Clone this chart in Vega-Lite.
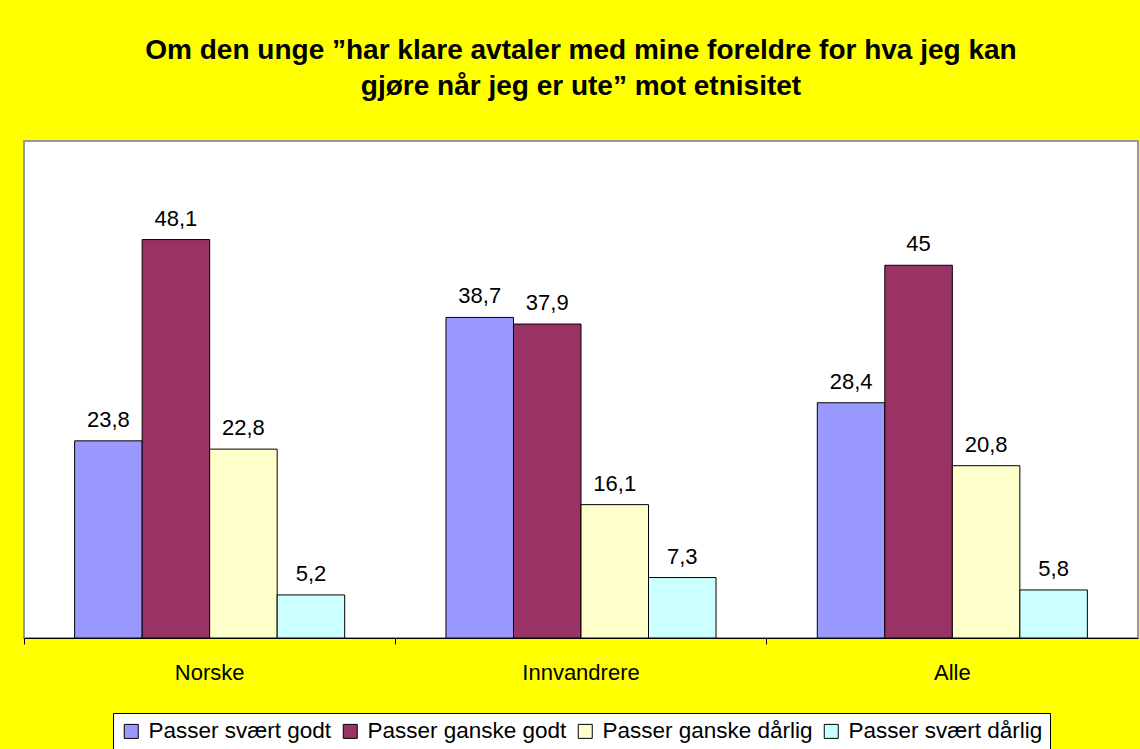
{
  "$schema": "https://vega.github.io/schema/vega-lite/v6.json",
  "width": 1114,
  "height": 497,
  "padding": {"left": 23, "top": 37, "right": 3, "bottom": 0},
  "background": "#FFFF00",
  "title": {
    "text": ["Om den unge ”har klare avtaler med mine foreldre for hva jeg kan", "gjøre når jeg er ute” mot etnisitet"],
    "fontSize": 28,
    "font": "Liberation Sans",
    "fontWeight": "bold",
    "lineHeight": 36,
    "offset": 40,
    "color": "black"
  },
  "data": {
    "values": [
      {"gruppe": "Norske", "svar": "Passer svært godt", "prosent": 23.8},
      {"gruppe": "Norske", "svar": "Passer ganske godt", "prosent": 48.1},
      {"gruppe": "Norske", "svar": "Passer ganske dårlig", "prosent": 22.8},
      {"gruppe": "Norske", "svar": "Passer svært dårlig", "prosent": 5.2},
      {"gruppe": "Innvandrere", "svar": "Passer svært godt", "prosent": 38.7},
      {"gruppe": "Innvandrere", "svar": "Passer ganske godt", "prosent": 37.9},
      {"gruppe": "Innvandrere", "svar": "Passer ganske dårlig", "prosent": 16.1},
      {"gruppe": "Innvandrere", "svar": "Passer svært dårlig", "prosent": 7.3},
      {"gruppe": "Alle", "svar": "Passer svært godt", "prosent": 28.4},
      {"gruppe": "Alle", "svar": "Passer ganske godt", "prosent": 45},
      {"gruppe": "Alle", "svar": "Passer ganske dårlig", "prosent": 20.8},
      {"gruppe": "Alle", "svar": "Passer svært dårlig", "prosent": 5.8}
    ]
  },
  "encoding": {
    "x": {
      "field": "gruppe",
      "type": "nominal",
      "sort": ["Norske", "Innvandrere", "Alle"],
      "scale": {"paddingInner": 0, "paddingOuter": 0},
      "axis": {
        "title": null,
        "labelAngle": 0,
        "bandPosition": 0,
        "domainColor": "black",
        "tickColor": "black",
        "tickSize": 6,
        "labelFontSize": 22,
        "labelFont": "Liberation Sans",
        "labelColor": "black",
        "labelPadding": 18
      }
    },
    "xOffset": {
      "field": "svar",
      "type": "nominal",
      "sort": ["Passer svært godt", "Passer ganske godt", "Passer ganske dårlig", "Passer svært dårlig"],
      "scale": {"paddingInner": 0, "paddingOuter": 0.75}
    },
    "y": {
      "field": "prosent",
      "type": "quantitative",
      "scale": {"domain": [0, 60]},
      "axis": null
    }
  },
  "layer": [
    {
      "mark": {"type": "bar", "stroke": "black", "strokeWidth": 1},
      "encoding": {
        "color": {
          "field": "svar",
          "type": "nominal",
          "sort": ["Passer svært godt", "Passer ganske godt", "Passer ganske dårlig", "Passer svært dårlig"],
          "scale": {
            "domain": ["Passer svært godt", "Passer ganske godt", "Passer ganske dårlig", "Passer svært dårlig"],
            "range": ["#9999FF", "#993366", "#FFFFCC", "#CCFFFF"]
          },
          "legend": {
            "title": null,
            "orient": "bottom",
            "direction": "horizontal",
            "columns": 4,
            "symbolType": "square",
            "symbolSize": 196,
            "symbolStrokeColor": "black",
            "symbolStrokeWidth": 1,
            "labelFontSize": 22.5,
            "labelFont": "Liberation Sans",
            "labelColor": "black",
            "labelLimit": 400,
            "labelOffset": 6,
            "columnPadding": 7,
            "strokeColor": "black",
            "fillColor": "white",
            "padding": 7,
            "offset": 30
          }
        }
      }
    },
    {
      "mark": {"type": "text", "dy": -14, "baseline": "alphabetic", "fontSize": 22, "font": "Liberation Sans", "color": "black"},
      "encoding": {
        "text": {"field": "prosent", "type": "quantitative", "format": ".1~f"}
      }
    }
  ],
  "config": {
    "locale": {"number": {"decimal": ",", "thousands": " ", "grouping": [3], "currency": ["", " kr"]}},
    "view": {"fill": "white", "stroke": "#999999", "strokeWidth": 2},
    "legend": {"layout": {"bottom": {"anchor": "middle"}}}
  }
}
